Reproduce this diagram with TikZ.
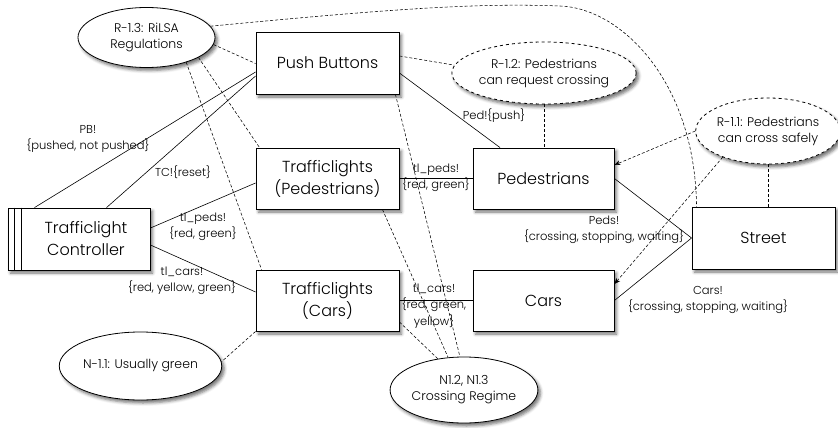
\documentclass[tikz,border=0pt]{standalone}
\usepackage{fontspec}
\setmainfont{Poppins Light}
\usetikzlibrary{shapes.geometric,shadows.blur,arrows.meta,calc}
\begin{document}
\begin{tikzpicture}[x=1pt,y=-1pt,
  softshadow/.style={blur shadow={shadow xshift=2.5pt, shadow yshift=-3pt, shadow blur radius=3pt, shadow opacity=55}},
  domainbox/.style={draw=black, line width=0.9pt, fill=white, rectangle, inner sep=0pt,
    minimum width=143pt, minimum height=62pt, align=center,
    font=\fontsize{16}{22}\selectfont, softshadow},
  reqbox/.style={draw=black, line width=0.8pt, fill=white, ellipse, inner sep=0pt,
    align=center, font=\fontsize{12.5}{16}\selectfont, softshadow},
  optreq/.style={reqbox, dashed},
  iface/.style={draw=black, line width=0.6pt},
  refline/.style={draw=black, line width=0.55pt, dash pattern=on 3pt off 2pt},
  constrains/.style={refline, -{Stealth[length=6pt,width=5pt]}},
  lbl/.style={align=center, font=\fontsize{11.5}{16.5}\selectfont, inner sep=0pt}
]
\useasboundingbox (0,0) rectangle (838,428);

% requirements and assumptions
\node[reqbox, minimum width=137pt, minimum height=60pt] (r13) at (146.5,37.5) {R-1.3: RiLSA\\Regulations};
\node[optreq, minimum width=136pt, minimum height=62pt] (r12) at (544,73) {R-1.2: Pedestrians\\can request crossing};
\node[optreq, minimum width=135pt, minimum height=66pt] (r11) at (768,131) {R-1.1: Pedestrians\\can cross safely};
\node[reqbox, minimum width=135pt, minimum height=68pt] (n11) at (140.5,366) {N-1.1: Usually green};
\node[reqbox, minimum width=136pt, minimum height=66pt] (n12) at (464,390) {N1.2, N1.3\\Crossing Regime};

% domains
\node[domainbox] (pb) at (327.5,63) {Push Buttons};
\node[domainbox, minimum height=61pt] (tlp) at (327.5,178.5) {Trafficlights\\(Pedestrians)};
\node[domainbox, minimum width=141pt, minimum height=61pt] (ped) at (543.5,178.5) {Pedestrians};
\node[domainbox] (street) at (763.5,238) {Street};
\node[domainbox, minimum width=142pt] (ctrl) at (79,239) {};
\node[align=center, font=\fontsize{16}{22}\selectfont, inner sep=0pt] (ctrltext) at (86,239) {Trafficlight\\Controller};
\node[domainbox, minimum height=61pt] (tlc) at (327.5,300.5) {Trafficlights\\(Cars)};
\node[domainbox, minimum width=141pt, minimum height=61pt] (cars) at (543.5,300.5) {Cars};

% machine stripes
\draw[line width=0.7pt] ([xshift=7pt]ctrl.north west) -- ([xshift=7pt]ctrl.south west);
\draw[line width=0.7pt] ([xshift=14pt]ctrl.north west) -- ([xshift=14pt]ctrl.south west);

% interfaces
\draw[iface] ([xshift=27pt]ctrl.north west) -- ([yshift=-9pt]pb.west);
\draw[iface] ([xshift=99pt]ctrl.north west) -- ([yshift=-13pt]pb.west);
\draw[iface] ([yshift=11pt]ctrl.east) -- ([yshift=-4.5pt]tlp.west);
\draw[iface] ([yshift=-6pt]ctrl.east) -- ([yshift=8.5pt]tlc.west);
\draw[iface] (tlp.east) -- (ped.west);
\draw[iface] (tlc.east) -- (cars.west);
\draw[iface] ([yshift=-10pt]pb.east) -- ([xshift=-43.5pt]ped.north);
\draw[iface] (ped.east) -- (street.west);
\draw[iface] (cars.east) -- (street.west);

% references
\draw[refline] (r13.10) .. controls (400,8) and (480,3) .. (560,6)
  .. controls (620,8) and (695,80) .. ([xshift=5pt]street.north west);
\draw[refline] (r13.-6) -- ([yshift=-0.5pt]pb.west);
\draw[refline] (r13.-21) -- ([xshift=4pt]tlp.north west);
\draw[refline] (r13.-32) -- ([xshift=6pt]tlc.north west);
\draw[refline] ([yshift=7pt]pb.east) -- (r12.175);
\draw[refline] (r12.south) -- (r12.south |- ped.north);
\draw[constrains] (r11.west) -- ([yshift=13.5pt]ped.east);
\draw[constrains] (r11.210) -- ([yshift=16.5pt]cars.east);
\draw[refline] (r11.south) -- (r11.south |- street.north);
\draw[refline] (tlc.south west) -- (n11.3);
\draw[refline] ([xshift=-4pt]pb.south east) -- (n12.97);
\draw[refline] ([xshift=-17pt]tlp.south east) -- (n12.116);
\draw[refline] ([yshift=-21.5pt]tlc.east) -- (n12.130);

% interface labels
\node[lbl] (lpb) at (88,139) {PB!\\\{pushed, not pushed\}};
\node[lbl] (ltc) at (183,172) {TC!\{reset\}};
\node[lbl] (lctp) at (203,227) {tl\_peds!\\\{red, green\}};
\node[lbl] (lctc) at (182,281) {tl\_cars!\\\{red, yellow, green\}};
\node[lbl] (ltlp) at (436,178) {tl\_peds!\\\{red, green\}};
\node[lbl] (ltlc) at (434,306) {tl\_cars!\\\{red, green,\\yellow\}};
\node[lbl] (lpush) at (494,116) {Ped!\{push\}};
\node[lbl] (lpeds) at (604,230) {Peds!\\\{crossing, stopping, waiting\}};
\node[lbl] (lcars) at (708,300) {Cars!\\\{crossing, stopping, waiting\}};
\end{tikzpicture}
\end{document}
